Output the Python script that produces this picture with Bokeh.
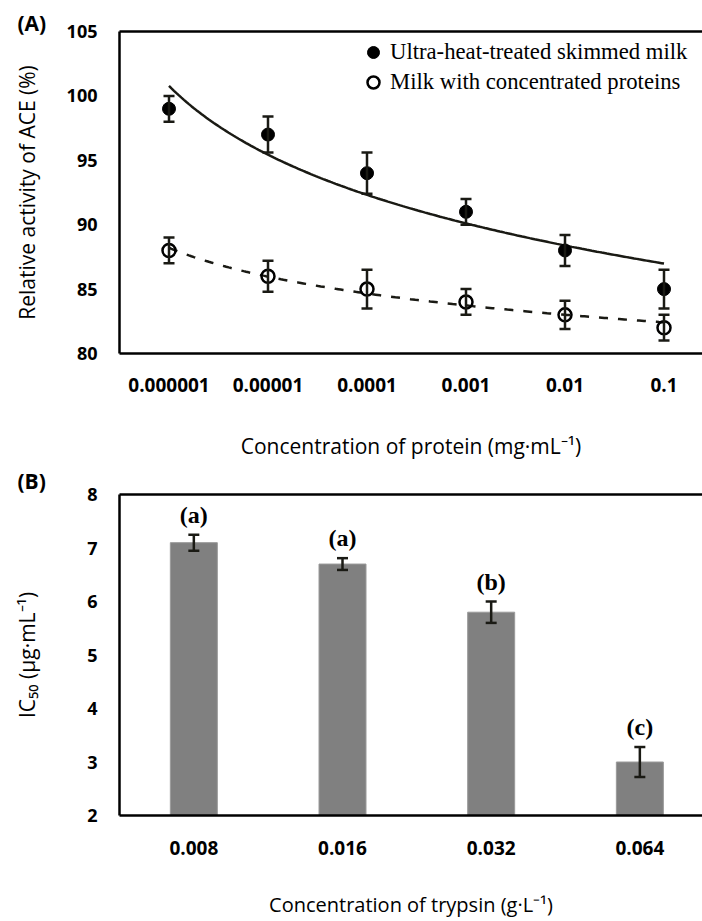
import numpy as np
from bokeh.plotting import figure
from bokeh.layouts import column
from bokeh.models import (Range1d, FixedTicker, LinearAxis, Whisker, TeeHead, ColumnDataSource,
                          Legend, LegendItem, Title)
from bokeh.core.properties import value
from bokeh.embed import file_html
from bokeh.resources import INLINE

# ---------------- data ----------------
protein_conc = ["0.000001", "0.00001", "0.0001", "0.001", "0.01", "0.1"]
uht_activity = [99.0, 97.0, 94.0, 91.0, 88.0, 85.0]
uht_error = [1.0, 1.4, 1.6, 1.0, 1.2, 1.5]
mcp_activity = [88.0, 86.0, 85.0, 84.0, 83.0, 82.0]
mcp_error = [1.0, 1.2, 1.5, 1.0, 1.1, 1.0]
series_names = ["Ultra-heat-treated skimmed milk", "Milk with concentrated proteins"]
y_ticks_a = [80, 85, 90, 95, 100, 105]

trypsin_conc = ["0.008", "0.016", "0.032", "0.064"]
ic50 = [7.1, 6.7, 5.8, 3.0]
ic50_error = [0.15, 0.11, 0.2, 0.28]
sig_letters = ["(a)", "(a)", "(b)", "(c)"]
y_ticks_b = [2, 3, 4, 5, 6, 7, 8]

SANS = "Open Sans"
SERIF = "Liberation Serif"
W = 702
LEFT = 119
INK = "#1a1a14"


def style_axes(p, xlabel, ylabel, x_std, x_title_std, x_title_size, y_title_std):
    for ax in p.xaxis:
        ax.axis_line_width = 2.5
        ax.axis_line_color = "black"
        ax.major_tick_line_color = None
        ax.minor_tick_line_color = None
        ax.major_tick_out = 0
        ax.major_tick_in = 0
        ax.major_label_text_font = SANS
        ax.major_label_text_font_style = "bold"
        ax.major_label_text_font_size = "19px"
        ax.major_label_text_color = "black"
        ax.major_label_standoff = x_std
        ax.axis_label = xlabel
        ax.axis_label_text_font = SANS
        ax.axis_label_text_font_style = "normal"
        ax.axis_label_text_font_size = x_title_size
        ax.axis_label_text_color = "black"
        ax.axis_label_standoff = x_title_std
    for ax in p.yaxis:
        ax.axis_line_width = 2.5
        ax.axis_line_color = "black"
        ax.major_tick_line_color = None
        ax.minor_tick_line_color = None
        ax.major_tick_out = 0
        ax.major_tick_in = 0
        ax.major_label_text_font = SANS
        ax.major_label_text_font_style = "bold"
        ax.major_label_text_font_size = "18px"
        ax.major_label_text_color = "black"
        ax.major_label_standoff = 22
        ax.axis_label = ylabel
        ax.axis_label_text_font = SANS
        ax.axis_label_text_font_style = "normal"
        ax.axis_label_text_font_size = "21px"
        ax.axis_label_text_color = "black"
        ax.axis_label_standoff = y_title_std
    top = LinearAxis(ticker=FixedTicker(ticks=[]), axis_line_width=2.5, axis_line_color="black",
                     major_tick_line_color=None, minor_tick_line_color=None,
                     major_tick_out=0, major_tick_in=0, minor_tick_out=0, minor_tick_in=0,
                     major_label_standoff=0, major_label_text_font_size="0px")
    p.add_layout(top, "above")
    p.outline_line_color = None
    p.xgrid.visible = False
    p.ygrid.visible = False


def panel_title(p, text, standoff):
    p.add_layout(Title(text=text, align="left", offset=-102, standoff=standoff, text_font=SANS,
                       text_font_style="bold", text_font_size="21px", text_color="black"),
                 "above")


def error_bars(x, vals, errs):
    src = ColumnDataSource(dict(x=x, up=np.array(vals) + np.array(errs),
                                lo=np.array(vals) - np.array(errs)))
    w = Whisker(base="x", upper="up", lower="lo", source=src, line_width=2.5,
                line_color=INK, level="overlay",
                upper_head=TeeHead(size=11, line_width=2.5, line_color=INK),
                lower_head=TeeHead(size=11, line_width=2.5, line_color=INK))
    return w, src


# ---------------- panel A ----------------
band_a = 99.0
frame_w = W - LEFT
pa = figure(width=W, height=462, output_backend="svg", toolbar_location=None,
            x_range=Range1d(0.5, 0.5 + frame_w / band_a), y_range=Range1d(80, 105),
            min_border_left=LEFT, min_border_right=0, min_border_top=31, min_border_bottom=108)
idx_a = np.arange(1, len(protein_conc) + 1)
pa.xaxis.ticker = FixedTicker(ticks=list(idx_a))
pa.xaxis.major_label_overrides = {int(i): lab for i, lab in zip(idx_a, protein_conc)}
pa.yaxis.ticker = FixedTicker(ticks=y_ticks_a)
style_axes(pa, "Concentration of protein (mg·mL⁻¹)", "Relative activity of ACE (%)",
           24, 37, "21px", 23)
panel_title(pa, "(A)", -10)

# logarithmic trend lines (least-squares fit on the category index, as in the source)
xs = np.linspace(1, len(protein_conc), 200)
c1 = np.polyfit(np.log(idx_a), uht_activity, 1)
c2 = np.polyfit(np.log(idx_a), mcp_activity, 1)
pa.line(xs, c1[0] * np.log(xs) + c1[1], line_color=INK, line_width=2.5)
pa.line(xs, c2[0] * np.log(xs) + c2[1], line_color=INK, line_width=2.5, line_dash="9 10")

for vals, errs in ((uht_activity, uht_error), (mcp_activity, mcp_error)):
    w, _ = error_bars(idx_a, vals, errs)
    pa.add_layout(w)

r_fill = pa.scatter(idx_a, uht_activity, marker="circle", size=13, fill_color="black",
                    line_color="black")
r_open = pa.scatter(idx_a, mcp_activity, marker="circle", size=13, fill_color=None,
                    line_color="black", line_width=2.5)

leg = Legend(items=[LegendItem(label=series_names[0], renderers=[r_fill]),
                    LegendItem(label=series_names[1], renderers=[r_open])],
             location=(239, 256), border_line_color=None, background_fill_alpha=0,
             label_text_font=SERIF, label_text_font_size="22.7px", label_text_color="black",
             glyph_width=30, glyph_height=30, label_height=30, spacing=0, padding=0,
             margin=0, label_standoff=2)
pa.add_layout(leg, "center")

# ---------------- panel B ----------------
band_b = 148.67
pb = figure(width=W, height=458, output_backend="svg", toolbar_location=None,
            x_range=Range1d(0.5, 0.5 + frame_w / band_b), y_range=Range1d(2, 8),
            min_border_left=LEFT, min_border_right=0, min_border_top=32, min_border_bottom=102)
idx_b = np.arange(1, len(trypsin_conc) + 1)
pb.xaxis.ticker = FixedTicker(ticks=list(idx_b))
pb.xaxis.major_label_overrides = {int(i): lab for i, lab in zip(idx_b, trypsin_conc)}
pb.yaxis.ticker = FixedTicker(ticks=y_ticks_b)
style_axes(pb, "Concentration of trypsin (g·L⁻¹)", "IC₅₀ (μg·mL⁻¹)", 25, 33, "20px", 43)
panel_title(pb, "(B)", 0)

pb.vbar(x=idx_b, top=ic50, bottom=2, width=47 / band_b, fill_color="#808080",
        line_color="#9a9a9a", line_width=1)
wb, srcb = error_bars(idx_b, ic50, ic50_error)
srcb.data["txt"] = sig_letters
pb.add_layout(wb)
pb.text(x="x", y="up", text="txt", source=srcb, text_font=value(SERIF), text_font_style="bold",
        text_font_size="24px", text_align="center", text_baseline="bottom", y_offset=-7,
        text_color="black")

layout = column(pa, pb, spacing=0)
open("out.html", "w").write(file_html(layout, INLINE))
